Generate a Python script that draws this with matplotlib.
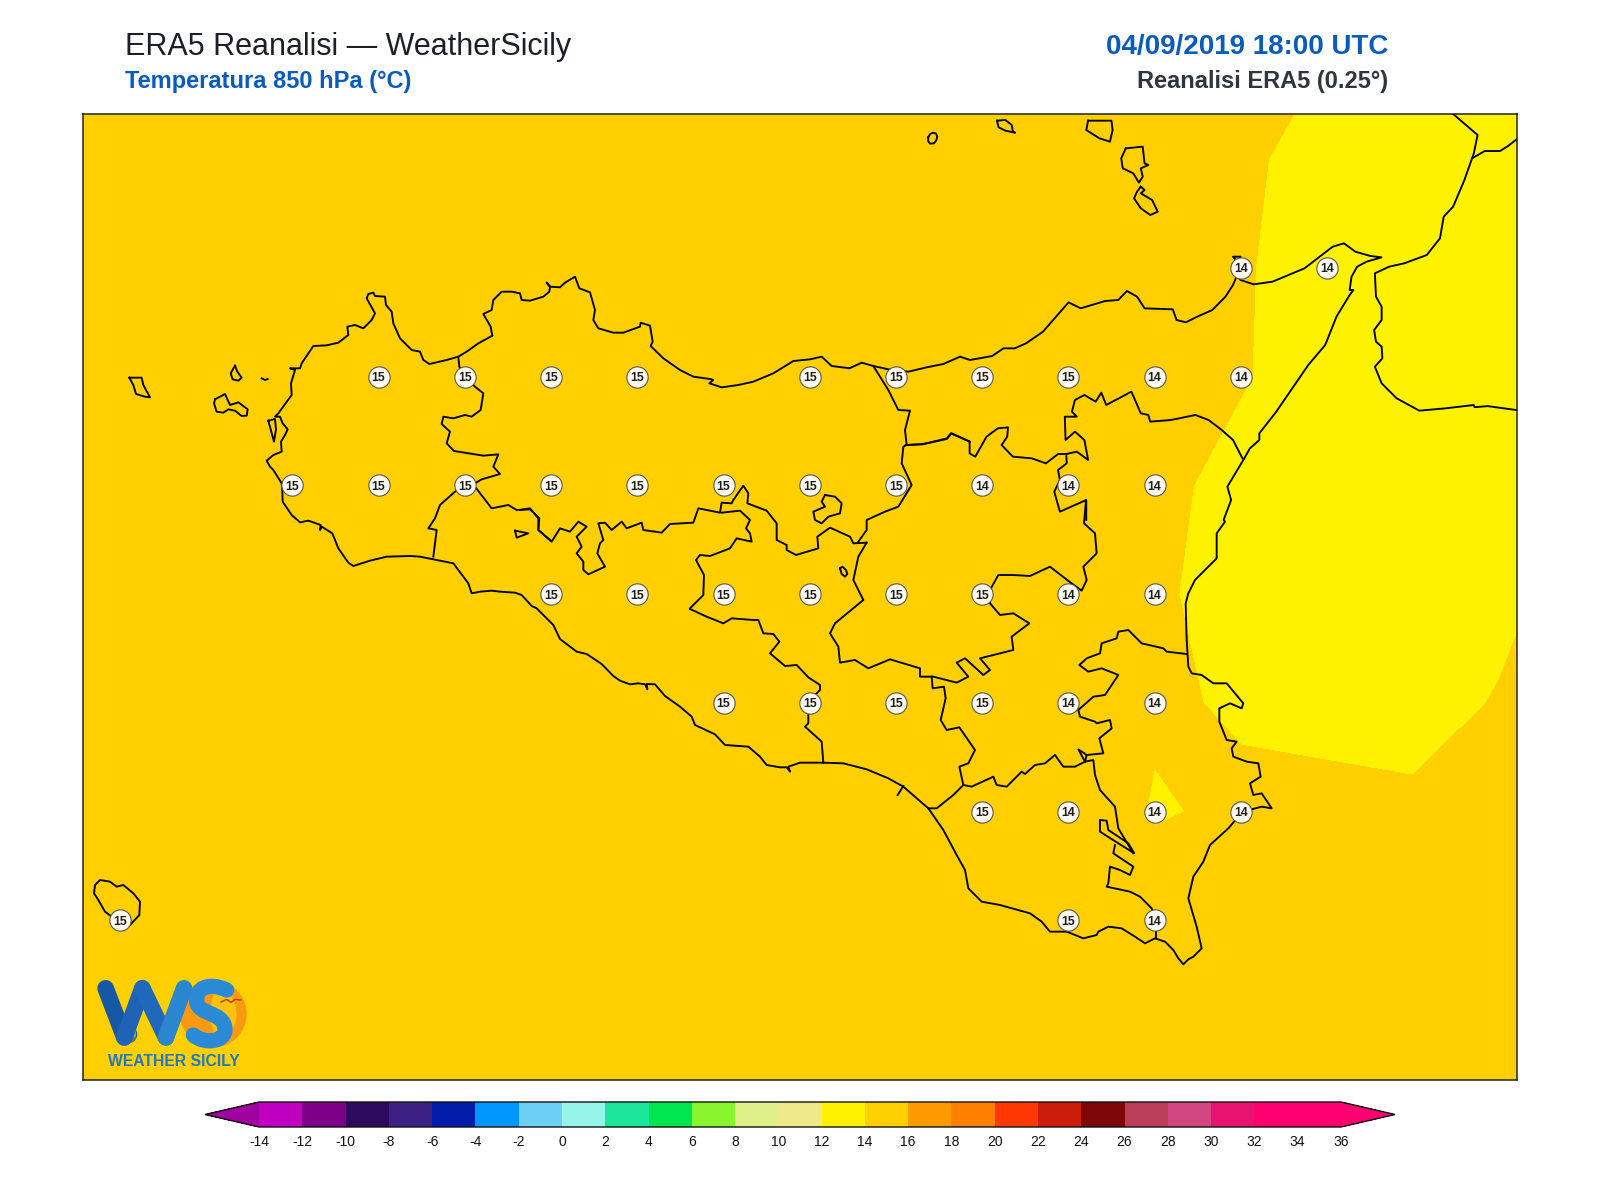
import matplotlib
matplotlib.use("Agg")
import matplotlib.pyplot as plt
import numpy as np
from matplotlib.colors import ListedColormap, BoundaryNorm
from matplotlib.patches import Circle, PathPatch, Wedge
from matplotlib.path import Path

plt.rcParams['font.family'] = ['Liberation Sans', 'DejaVu Sans']
plt.rcParams['axes.unicode_minus'] = False

# ---------- field data (850 hPa temperature, degrees C, ERA5 0.25 grid) ----------
GRID_LON = [11.75, 12.0, 12.25, 12.5, 12.75, 13.0, 13.25, 13.5, 13.75, 14.0, 14.25, 14.5, 14.75,
            15.0, 15.25, 15.5, 15.75, 16.0, 16.25]
GRID_LAT = [38.75, 38.5, 38.25, 38.0, 37.75, 37.5, 37.25, 37.0, 36.75, 36.5, 36.25]
T_3875 = [15.3, 15.3, 15.3, 15.3, 15.2, 15.2, 15.1, 15.1, 15.0, 15.0, 14.9, 14.7, 14.5, 14.3, 14.10, 14.003, 13.9, 13.9, 13.9]
T_3850 = [15.3, 15.3, 15.3, 15.3, 15.2, 15.2, 15.1, 15.1, 15.0, 15.0, 14.9, 14.7, 14.45, 14.15, 14.032, 13.932, 13.9, 13.9, 13.9]
T_3825 = [15.3, 15.3, 15.3, 15.3, 15.2, 15.1, 15.1, 15.0, 15.0, 14.9, 14.8, 14.6, 14.4, 14.2, 14.017, 13.917, 13.9, 13.9, 13.9]
T_3800 = [15.3, 15.3, 15.2, 15.2, 15.1, 15.1, 15.0, 15.0, 14.9, 14.8, 14.7, 14.6, 14.52, 14.3, 14.013, 13.913, 13.9, 13.9, 13.9]
T_3775 = [15.3, 15.3, 15.2, 15.2, 15.1, 15.0, 15.0, 14.9, 14.8, 14.7, 14.6, 14.45, 14.3, 14.045, 13.945, 13.9, 13.9, 13.9, 13.9]
T_3750 = [15.3, 15.2, 15.2, 15.1, 15.0, 15.0, 14.9, 14.8, 14.8, 14.7, 14.6, 14.55, 14.3, 14.028, 13.928, 13.9, 13.85, 13.935, 14.106]
T_3725 = [15.3, 15.2, 15.1, 15.1, 15.0, 14.9, 14.9, 14.8, 14.7, 14.7, 14.6, 14.6, 14.3, 14.056, 13.956, 13.9, 13.9, 14.018, 14.2]
T_3700 = [15.2, 15.2, 15.1, 15.0, 15.0, 14.9, 14.9, 14.8, 14.8, 14.7, 14.7, 14.6, 14.34, 13.962, 14.069, 14.089, 14.05, 14.2, 14.3]
T_3675 = [15.2, 15.1, 15.1, 15.0, 15.0, 14.9, 14.9, 14.9, 14.8, 14.8, 14.7, 14.7, 14.55, 14.25, 14.3, 14.3, 14.3, 14.3, 14.4]
T_3650 = [15.2, 15.1, 15.1, 15.0, 15.0, 15.0, 14.9, 14.9, 14.9, 14.8, 14.8, 14.7, 14.6, 14.5, 14.4, 14.4, 14.4, 14.4, 14.4]
T_3625 = [15.2, 15.1, 15.1, 15.0, 15.0, 15.0, 15.0, 14.9, 14.9, 14.9, 14.8, 14.8, 14.7, 14.6, 14.5, 14.5, 14.5, 14.5, 14.5]
FIELD = [T_3875, T_3850, T_3825, T_3800, T_3775, T_3750, T_3725, T_3700, T_3675, T_3650, T_3625]

# ---------- printed values ----------
STATION_LON = [15.25, 15.5,
               12.75, 13.0, 13.25, 13.5, 14.0, 14.25, 14.5, 14.75, 15.0, 15.25,
               12.5, 12.75, 13.0, 13.25, 13.5, 13.75, 14.0, 14.25, 14.5, 14.75, 15.0,
               13.25, 13.5, 13.75, 14.0, 14.25, 14.5, 14.75, 15.0,
               13.75, 14.0, 14.25, 14.5, 14.75, 15.0,
               14.5, 14.75, 15.0, 15.25,
               12.0, 14.75, 15.0]
STATION_LAT = [38.25, 38.25,
               38.0, 38.0, 38.0, 38.0, 38.0, 38.0, 38.0, 38.0, 38.0, 38.0,
               37.75, 37.75, 37.75, 37.75, 37.75, 37.75, 37.75, 37.75, 37.75, 37.75, 37.75,
               37.5, 37.5, 37.5, 37.5, 37.5, 37.5, 37.5, 37.5,
               37.25, 37.25, 37.25, 37.25, 37.25, 37.25,
               37.0, 37.0, 37.0, 37.0,
               36.75, 36.75, 36.75]
STATION_VALUE = [14, 14,
                 15, 15, 15, 15, 15, 15, 15, 15, 14, 14,
                 15, 15, 15, 15, 15, 15, 15, 15, 14, 14, 14,
                 15, 15, 15, 15, 15, 15, 14, 14,
                 15, 15, 15, 15, 14, 14,
                 15, 14, 14, 14,
                 15, 15, 14]

# ---------- colour scale ----------
LEVELS = list(range(-14, 37, 2))
BAND_COLORS = ['#C000C0', '#7D0087', '#2E0A5E', '#3D2083', '#001CA8', '#0096FF', '#6DCFF6', '#96F5E8',
               '#1CE69A', '#00E650', '#88F52E', '#DFF08A', '#F0E988', '#FFF200', '#FFCF00', '#FF9900',
               '#FF7F00', '#FF3700', '#CC1D0B', '#7D0606', '#BC3F5A', '#D24682', '#E81270', '#FF0070', '#FF0070']
UNDER_COLOR = '#A0009F'
OVER_COLOR = '#FF0070'

# ---------- map outlines, traced from enlargements: (crop origin x, y, scale x, y) ----------
CROP_WEST = (100, 270, 3, 3)
CROP_CENTRE = (520, 340, 3, 3)
CROP_NE = (900, 100, 2.6576, 3)
CROP_SE = (800, 500, 3, 3)
CROP_NORTH = (450, 260, 3, 3)
CROP_SOUTH = (420, 540, 3, 3)
CROP_PANT = (80, 860, 3, 3)
CROP_FULL = (0, 0, 0.98, 0.98)

COAST_W = [(930,858),(860,860),(810,872),(760,888),(745,878),(715,835),(697,790),(665,770),(660,780),(662,765),(625,752),(600,757),
           (575,735),(548,695),(547,665),(545,640),(520,600),(510,590),(500,572),(520,555),(545,545),(543,515),(555,495),
           (563,478),(548,460),(540,440),(525,440),(535,430),(575,375),(573,340),(585,300),(570,295),(600,295),(605,280),(640,228),
           (680,226),(715,218),(745,195),(742,170),(765,165),(790,175),(815,150),(825,130),(800,85),(805,72),
           (820,68),(825,78),(855,80),(858,105),(875,125),(880,160),(900,205),(935,240),(960,245),(970,270),
           (988,282),(1040,270),(1075,260),(1100,245),(1135,220),(1177,197)]
COAST_N = [(127,228),(122,200),(100,162),(125,150),(130,120),(155,95),(185,95),(210,100),(215,120),(240,122),
           (280,110),(298,95),(300,80),(290,68),(300,80),(330,82),(345,68),(375,50),(388,85),(420,97),(435,150),(430,180),
           (445,205),(490,218),(520,218),(570,200),(572,188),(600,197),(608,245),(602,258),(640,295),(690,330),
           (730,350),(780,357),(790,360),(778,370),(815,382),(865,375),(910,365),(970,340),(1030,303),(1080,298),
           (1115,290),(1145,318),(1200,325)]
COAST_N2 = [(990,84),(1025,68),(1060,78),(1105,88),(1165,95),(1220,82),(1270,72),(1320,50),(1350,60)]
COAST_NE = [(245,768),(275,745),(305,745),(335,730),
            (380,695),(448,607),(480,625),(545,603),(580,600),(603,573),(630,590),(650,625),(725,628),(735,660),
            (760,667),(790,650),(830,630),(865,590),(885,555),(895,528),(900,490),(905,470),(885,470),(900,490),(895,528),(905,540),(940,553),(990,545),
            (1075,505),(1150,440),(1180,430),(1210,455),(1250,468),(1280,472),(1240,485),(1215,500),(1200,530),
            (1195,570),(1205,570),(1195,585),(1160,650),(1130,735),(1085,795),(1000,935),(955,1000),(955,1020),
            (930,1045),(915,1075),(870,1160),(880,1200),(860,1260)]
COAST_E = [(1275,65),(1250,100),(1250,175),(1185,240),(1165,280),(1157,310),(1160,420),(1165,500),(1175,520),
           (1205,525),(1240,550),(1280,550),(1330,610),(1325,625),(1290,610),(1258,625),(1258,665),(1280,720),
           (1310,725),(1295,745),(1300,770),(1340,785),(1375,790),(1382,830),(1350,850),(1360,885),(1385,880),
           (1415,925),(1385,920),(1328,935),(1285,985),(1230,1035),(1210,1085),(1180,1130),(1165,1195),(1190,1280),
           (1205,1345),(1180,1370),(1165,1378),(1150,1393),(1135,1375),(1120,1350),(1095,1325),(1065,1315),(1035,1330),
           (1005,1310),(965,1285),(925,1280),(895,1295),(890,1305),(850,1315),(800,1295),(750,1295),(725,1265),
           (690,1240),(600,1215),(545,1205),(505,1165),(495,1110),(470,1065),(430,990),(385,925),(310,860),(265,835),
           (200,808),(130,790),(70,788),(0,788)]
COAST_S = [(1140,668),(1105,680),(1110,695),(1100,682),(1080,682),(1040,675),(1020,650),(985,620),(915,615),(885,583),(825,555),(815,530),(780,500),
           (735,468),(705,433),(680,432),(682,448),(675,433),(655,430),(630,433),(600,422),(580,408),(545,372),(500,342),(470,335),(420,297),
           (400,255),(350,205),(335,198),(305,165),(285,158),(240,155),(215,152),(180,155),(155,160),(145,130),(100,70),(40,58),(0,50)]

CALABRIA = [(1470,42),(1535,105),(1525,160),(1500,240),(1470,320),(1445,350),(1435,415),(1400,465),(1340,490),
            (1300,500),(1262,520),(1265,590),(1280,620),(1280,660),(1260,690),(1265,725),(1280,740),(1282,775),
            (1262,800),(1280,850),(1320,895),(1380,932),(1450,925),(1525,915)]
CALABRIA_END = [(1445,399),(1458,398),(1487,402)]
CALABRIA_BORDER = [(1443,155),(1455,148),(1470,148),(1478,143),(1487,136)]

MARETTIMO = [(88,323),(125,323),(130,345),(150,382),(135,380),(108,372),(100,345),(88,323)]
LEVANZO = [(405,287),(412,305),(425,323),(415,332),(398,328),(392,310),(405,287)]
FAVIGNANA = [(345,388),(375,372),(390,405),(415,397),(443,418),(440,437),(425,438),(405,422),(385,418),(370,428),(350,425),(342,400),(345,388)]
FORMICA = [(485,325),(495,330),(503,327)]
STAGNONE = [(505,452),(522,515),(528,478),(525,447),(505,452)]
ALICUDI = [(75,112),(80,102),(88,98),(96,101),(99,110),(96,122),(90,130),(80,131),(75,124),(75,112)]
FILICUDI = [(258,62),(280,60),(297,75),(300,95),(306,98),(280,92),(262,82),(258,62)]
SALINA = [(500,62),(562,62),(565,90),(558,125),(530,115),(495,90),(500,62)]
LIPARI = [(600,145),(645,140),(650,190),(660,195),(640,205),(645,230),(635,248),(620,220),(592,205),(588,175),(600,145)]
VULCANO = [(640,260),(650,270),(640,280),(670,300),(685,335),(665,345),(640,325),(622,295),(630,275),(640,260)]
PANTELLERIA = [(45,75),(60,60),(90,65),(110,80),(130,75),(160,100),(180,125),(178,165),(150,195),(120,210),(95,170),(75,155),(55,120),(42,100),(45,75)]
PERGUSA = [(960,685),(967,680),(978,690),(982,702),(975,710),(965,702),(960,685)]
MADONIE = [(915,465),(945,470),(965,490),(960,520),(925,530),(905,550),(885,540),(880,515),(915,500),(905,485),(915,465)]
ENCLAVE_W = [(1245,782),(1285,790),(1250,803),(1245,782)]

TP_PA = [(1075,262),(1078,290),(1095,318),(1125,350),(1150,370),(1142,420),(1115,440),(1095,435),(1060,445),(1030,440),
         (1025,462),(1050,485),(1040,520),(1062,543),(1150,557),(1195,553),(1180,590),(1200,612),(1145,628),(1125,640),(1095,645)]
TP_AG = [(1095,645),(1065,665),(1020,705),(1005,745),(985,775),(1010,780),(1000,860)]
AG_PA_W = [(1125,650),(1175,715),(1225,705),(1250,720),(1290,718),(1318,745),(1315,780),(1350,810)]
AG_PA_E = [(0,510),(30,505),(55,535),(55,570),(95,605),(120,565),(150,575),(175,545),(200,560),(170,590),(185,620),
           (170,640),(190,665),(190,690),(205,703),(255,680),(232,640),(240,610),(250,600),(235,550),(255,548),(275,570),
           (305,545),(320,565),(365,548),(370,570),(425,578),(450,552),(520,548),(535,505),(600,518),(605,488),(635,490),
           (640,480),(670,437),(685,460),(682,490),(740,512),(770,550),(770,600),(800,615),(800,630),(828,645),(895,625),
           (892,590),(930,563),(990,590),(1000,610),(1040,608)]
PA_ME = [(1015,605),(1040,570),(1040,540),(1095,515),(1135,500),(1175,435),(1145,370),(1150,320),(1160,315),(1155,270),
         (1170,212),(1135,210),(1105,150),(1060,78)]
EN_ME_W = [(1160,315),(1210,312),(1280,297),(1295,280),(1350,305)]
EN_ME_E = [(15,1035),(60,1033),(125,1015),(135,1000),(185,1025),(185,1060),(200,1070),(215,1040),(230,1010),(260,985),
           (287,982),(285,1010),(270,1035),(300,1070),(350,1075),(388,1090),(420,1062),(442,1062),(470,1055),(500,1080),
           (490,1020),(465,995),(440,1020),(438,950),(470,950),(457,935),(465,900),(490,885),(520,905),(535,878),(548,915),
           (615,875),(640,940),(660,945),(665,965),(720,960),(785,945),(820,960),(855,990),(885,1020),(910,1075)]
ME_CT = [(442,1062),(443,1090),(420,1110),(425,1140),(410,1175),(425,1235),(495,1200),(495,1260)]
EN_CT = [(858,0),(852,70),(885,100),(890,160),(850,200),(860,240),(845,272),(808,245),(750,200),(690,228),(640,225),(595,225),(570,270)]
EN_CL = [(200,128),(175,170),(160,240),(190,300),(105,370),(90,400),(115,440),(120,488),(165,480),(205,505),(270,478),
         (310,490),(360,505),(360,530),(400,530),(470,548),(505,530),(470,488),(495,475),(550,525),(570,510),(540,475),
         (640,450),(635,410),(688,370),(640,340),(600,345),(570,310),(570,270)]
CL_PA = [(510,805),(550,765),(552,705),(528,660),(540,645),(570,648),(630,625),(650,595),(695,605),(690,580),(678,565),
         (690,540),(660,512),(605,518)]
CL_AG = [(810,207),(860,230),(910,250),(935,235),(1000,240),(1015,240),(1030,280),(1060,282),(1078,305),(1050,340),
         (1095,378),(1130,375),(1165,412),(1200,435),(1200,450),(1170,480),(1165,520),(1165,550),(1155,560),(1205,605),(1210,668)]
RG_CT = [(490,855),(515,860),(580,830),(590,855),(620,860),(665,815),(675,822),(705,795),(735,790),(765,765),(790,800),
         (825,800),(855,785),(835,748),(860,765),(855,785),(880,780),(885,825),(900,870),(945,920),(955,985),(1000,1060)]
CL_CT = [(395,530),(398,565),(432,560),(437,595),(422,660),(440,690),(478,682),(525,750),(505,790),(478,800),(490,855),
         (460,885),(410,925),(385,925)]
CT_SOUTH = [(808,610),(835,630),(880,590),(915,585),(955,525),(905,505),(865,515),(838,495),(860,475),(900,460),(905,430),
            (950,415),(955,395),(985,390),(1025,430),(1090,445),(1100,455),(1160,462)]
CT_EAST = [(835,630),(840,650),(885,665),(890,670),(930,660),(935,685),(898,715),(910,760),(860,765)]
RG_SR = [(900,960),(920,962),(925,990),(985,1030),(1003,1060),(955,1030),(900,995),(900,960)]
RG_SR2 = [(945,1035),(940,1060),(1000,1100),(990,1125),(960,1110),(930,1100),(925,1150),(920,1160),(990,1175),(1020,1190),
          (1055,1225),(1068,1260),(1068,1315)]
SPUR = [(310,858),(293,885)]

# px-to-geographic constants of the reference map
PX_LON0, PX_LAT0, PX_PER_LON, PX_PER_LAT = 378.6, 376.5, 344.9, 435.1
W, H = 1600, 1200
FRAME_L, FRAME_R, FRAME_T, FRAME_B = 82.5, 1516.7, 114.0, 1080.0


def to_lonlat(trace, crop):
    ox, oy, sx, sy = crop
    a = np.asarray(trace, float)
    px = ox + a[:, 0] / sx
    py = oy + a[:, 1] / sy
    return 12.75 + (px - PX_LON0) / PX_PER_LON, 38.0 - (py - PX_LAT0) / PX_PER_LAT


def chain(*parts):
    xs, ys = zip(*[to_lonlat(t, c) for t, c in parts])
    return np.concatenate(xs), np.concatenate(ys)


fig = plt.figure(figsize=(16, 12), dpi=100, facecolor='white')
ax = fig.add_axes([FRAME_L / W, 1 - FRAME_B / H, (FRAME_R - FRAME_L) / W, (FRAME_B - FRAME_T) / H])

cmap = ListedColormap(BAND_COLORS)
cmap.set_under(UNDER_COLOR)
cmap.set_over(OVER_COLOR)
norm = BoundaryNorm(LEVELS, cmap.N)
cf = ax.contourf(GRID_LON, GRID_LAT, np.array(FIELD), levels=LEVELS, cmap=cmap, norm=norm, extend='both')

ax.set_xlim(12.75 + (FRAME_L - PX_LON0) / PX_PER_LON, 12.75 + (FRAME_R - PX_LON0) / PX_PER_LON)
ax.set_ylim(38.0 - (FRAME_B - PX_LAT0) / PX_PER_LAT, 38.0 - (FRAME_T - PX_LAT0) / PX_PER_LAT)
ax.set_xticks([])
ax.set_yticks([])
for s in ax.spines.values():
    s.set_linewidth(1.1)
    s.set_color('#222222')

LINE = dict(color='black', lw=1.35, solid_joinstyle='round', zorder=3)
ax.plot(*chain((COAST_W, CROP_WEST), (COAST_N, CROP_NORTH), (COAST_N2, CROP_CENTRE), (COAST_NE, CROP_NE),
               (COAST_E, CROP_SE), (COAST_S, CROP_SOUTH), (COAST_W[:1], CROP_WEST)), **LINE)
ax.plot(*chain((CALABRIA, CROP_NE), (CALABRIA_END, CROP_FULL)), **LINE)
for trace, crop in [(CALABRIA_BORDER, CROP_FULL),
                    (MARETTIMO, CROP_WEST), (LEVANZO, CROP_WEST), (FAVIGNANA, CROP_WEST), (FORMICA, CROP_WEST),
                    (STAGNONE, CROP_WEST), (ALICUDI, CROP_NE), (FILICUDI, CROP_NE), (SALINA, CROP_NE),
                    (LIPARI, CROP_NE), (VULCANO, CROP_NE), (PANTELLERIA, CROP_PANT), (PERGUSA, CROP_CENTRE),
                    (MADONIE, CROP_CENTRE), (ENCLAVE_W, CROP_WEST), (TP_PA, CROP_WEST), (TP_AG, CROP_WEST),
                    (AG_PA_W, CROP_WEST), (AG_PA_E, CROP_CENTRE), (PA_ME, CROP_CENTRE), (EN_ME_W, CROP_CENTRE),
                    (EN_ME_E, CROP_NE), (ME_CT, CROP_NE), (EN_CT, CROP_SE), (EN_CL, CROP_SE), (CL_PA, CROP_CENTRE),
                    (CL_AG, CROP_SOUTH), (RG_CT, CROP_SE), (CL_CT, CROP_SE), (CT_SOUTH, CROP_SE), (CT_EAST, CROP_SE),
                    (RG_SR, CROP_SE), (RG_SR2, CROP_SE), (SPUR, CROP_SE)]:
    ax.plot(*to_lonlat(trace, crop), **LINE)

# printed values
ax.scatter(STATION_LON, STATION_LAT, s=235, facecolor='#FFFDF2', edgecolor='#555555', linewidth=0.8, zorder=4)
for lon, lat, v in zip(STATION_LON, STATION_LAT, STATION_VALUE):
    ax.text(lon, lat, str(v), ha='center', va='center_baseline', fontsize=8.8, fontweight='bold',
            color='#1c1c1c', zorder=5)

# colour bar
cax = fig.add_axes([205 / W, 1 - 1127 / H, 1190 / W, 25 / H])
cb = fig.colorbar(cf, cax=cax, orientation='horizontal', ticks=LEVELS, extend='both', drawedges=False)
cb.ax.tick_params(length=0, labelsize=10, pad=5.5, labelcolor='#111111')
cb.set_ticklabels([str(v) for v in LEVELS])
cb.outline.set_linewidth(1.0)
cb.outline.set_edgecolor('#111111')

# titles
fig.text(125 / W, 1 - 54.8 / H, 'ERA5 Reanalisi — WeatherSicily', fontsize=22, color='#1a1f28', ha='left', va='baseline')
fig.text(124.5 / W, 1 - 87.7 / H, 'Temperatura 850 hPa (°C)', fontsize=17, fontweight='bold', color='#0A5BC0', ha='left', va='baseline')
fig.text(1388.3 / W, 1 - 54 / H, '04/09/2019 18:00 UTC', fontsize=20, fontweight='bold', color='#0A5BC0', ha='right', va='baseline')
fig.text(1388.3 / W, 1 - 88 / H, 'Reanalisi ERA5 (0.25°)', fontsize=17, fontweight='bold', color='#2f3640', ha='right', va='baseline')

# logo, drawn in its own small axes
lx, ly, lw, lh = 85, 940, 170, 130
lax = fig.add_axes([lx / W, 1 - (ly + lh) / H, lw / W, lh / H])
lax.set_xlim(0, 510)
lax.set_ylim(390, 0)
lax.axis('off')
lax.add_patch(Circle((385, 222), 100, facecolor='#F79A12', edgecolor='none'))
lax.add_patch(Wedge((370, 222), 85, -75, 75, facecolor='#FFC20A', edgecolor='none'))
stroke = dict(lw=12, solid_capstyle='round', solid_joinstyle='round')
lax.plot([62, 118], [145, 292], color='#1558A6', **stroke)
lax.plot([118, 172], [292, 145], color='#1E63B5', **stroke)
lax.plot([172, 243], [145, 292], color='#2068BC', **stroke)
lax.plot([243, 297], [292, 145], color='#2A86CF', **stroke)
s_path = Path([(425, 150), (370, 125), (330, 145), (335, 185), (340, 225), (415, 215), (420, 265), (423, 305), (360, 315), (325, 285)],
              [Path.MOVETO] + [Path.CURVE4] * 9)
lax.add_patch(PathPatch(s_path, facecolor='none', edgecolor='#2A8AD6', lw=11, capstyle='round'))
lax.add_patch(Circle((130, 283), 25, facecolor='#63C74D', edgecolor='#1558A6', lw=0.8))
lax.add_patch(Wedge((130, 283), 25, 20, 150, facecolor='#7D7A4A', edgecolor='none'))
lax.plot([408, 425, 438, 450, 467], [186, 178, 187, 178, 180], color='#B5431F', lw=1.1)
lax.text(266, 363, 'WEATHER SICILY', ha='center', va='center', fontsize=11.3, fontweight='bold', color='#1F77C8')

fig.savefig('out.png', dpi=100)
